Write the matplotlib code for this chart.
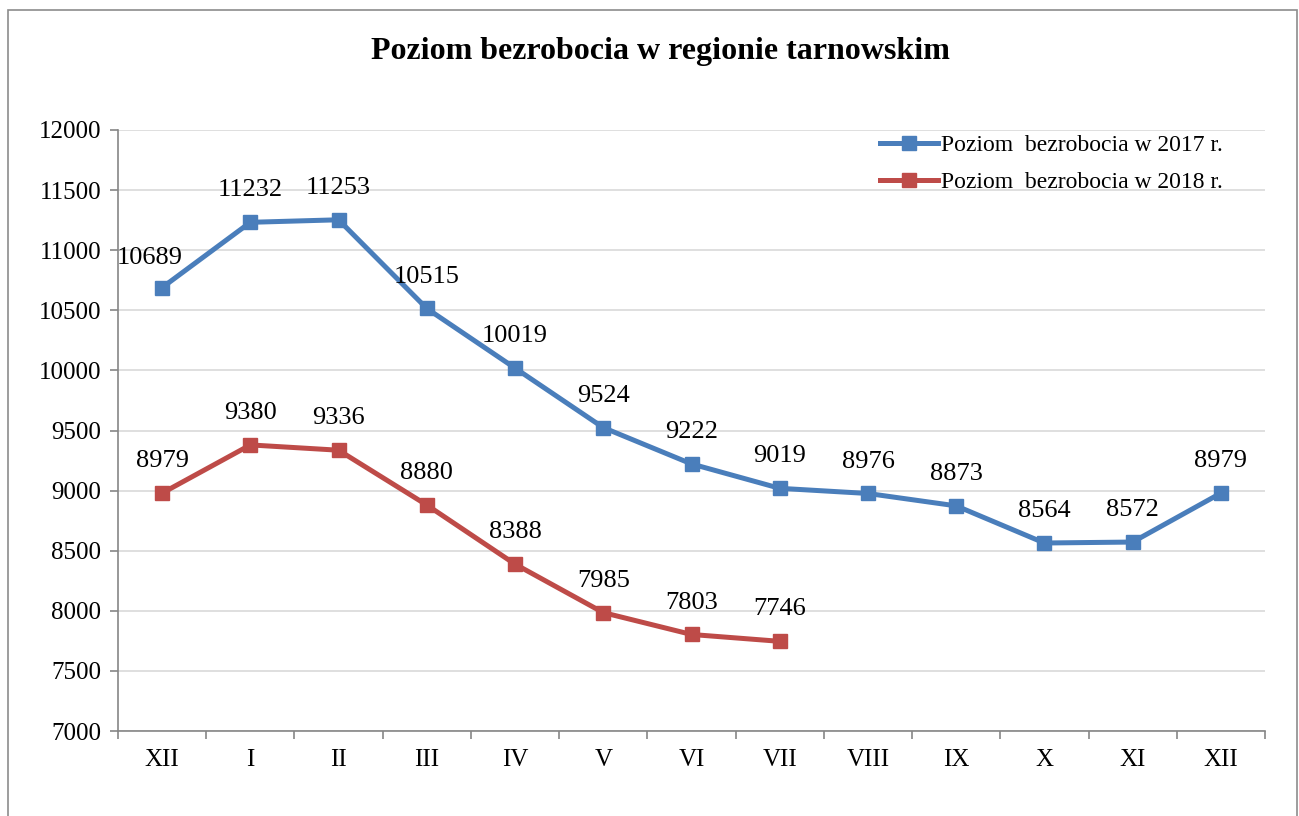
import matplotlib
matplotlib.use("Agg")
import matplotlib.pyplot as plt
from matplotlib.patches import Rectangle
import numpy as np

months = ["XII", "I", "II", "III", "IV", "V", "VI", "VII", "VIII", "IX", "X", "XI", "XII"]
val_2017 = [10689, 11232, 11253, 10515, 10019, 9524, 9222, 9019, 8976, 8873, 8564, 8572, 8979]
val_2018 = [8979, 9380, 9336, 8880, 8388, 7985, 7803, 7746]
name_2017 = "Poziom  bezrobocia w 2017 r."
name_2018 = "Poziom  bezrobocia w 2018 r."
title = "Poziom bezrobocia w regionie tarnowskim"
yticks = list(range(7000, 12001, 500))

plt.rcParams['font.family'] = ['Liberation Serif', 'DejaVu Serif']

fig = plt.figure(figsize=(12.99, 8.16), dpi=100)
fig.patches.append(Rectangle((8/1299, -0.1), (1297-8)/1299, (816-10)/816 + 0.1,
                             transform=fig.transFigure, fill=False,
                             edgecolor='#8c8c8c', linewidth=1.2))
ax = fig.add_axes([118/1299, 1-731/816, (1265-118)/1299, (731-130)/816])

blue = '#4A7EBB'
red = '#BE4B48'
x17 = np.arange(len(val_2017))
x18 = np.arange(len(val_2018))
ax.plot(x17, val_2017, color=blue, lw=3.6, marker='s', ms=10, label=name_2017, zorder=3)
ax.plot(x18, val_2018, color=red, lw=3.6, marker='s', ms=10, label=name_2018, zorder=3)

for i, (xi, v) in enumerate(zip(x17, val_2017)):
    # the first label is nudged left/down so it stays inside the plot area
    off = (-9, 21) if i == 0 else (0, 23)
    ax.annotate(str(v), (xi, v), xytext=off, textcoords='offset points',
                ha='center', va='center', fontsize=19)
for xi, v in zip(x18, val_2018):
    ax.annotate(str(v), (xi, v), xytext=(0, 23), textcoords='offset points',
                ha='center', va='center', fontsize=19)

ax.set_xlim(-0.5, len(months) - 0.5)
ax.set_ylim(7000, 12000)
ax.set_yticks(yticks)
ax.set_yticklabels([str(t) for t in yticks], fontsize=18)
ax.set_xticks(np.arange(len(months)))
ax.set_xticklabels(months, fontsize=18)
ax.set_xticks(np.arange(len(months) + 1) - 0.5, minor=True)
ax.tick_params(axis='x', which='major', length=0, pad=13)
ax.tick_params(axis='x', which='minor', length=6, color='#868686', width=1.2)
ax.tick_params(axis='y', length=6, color='#868686', width=1.2, pad=6)
ax.grid(axis='y', color='#D9D9D9', lw=1.2, zorder=0)
ax.set_axisbelow(True)
for s in ['top', 'right']:
    ax.spines[s].set_visible(False)
for s in ['left', 'bottom']:
    ax.spines[s].set_color('#868686')
    ax.spines[s].set_linewidth(1.2)

leg = fig.legend(loc='upper left', bbox_to_anchor=(878/1299, 1-132/816), frameon=False, fontsize=17,
                 handlelength=2.45, handletextpad=0.1, labelspacing=0.68,
                 borderaxespad=0.0, borderpad=0.1)

fig.text(660/1299, 1-52/816, title, ha='center', va='center', fontsize=23, fontweight='bold')

fig.savefig('out.png', dpi=100)
